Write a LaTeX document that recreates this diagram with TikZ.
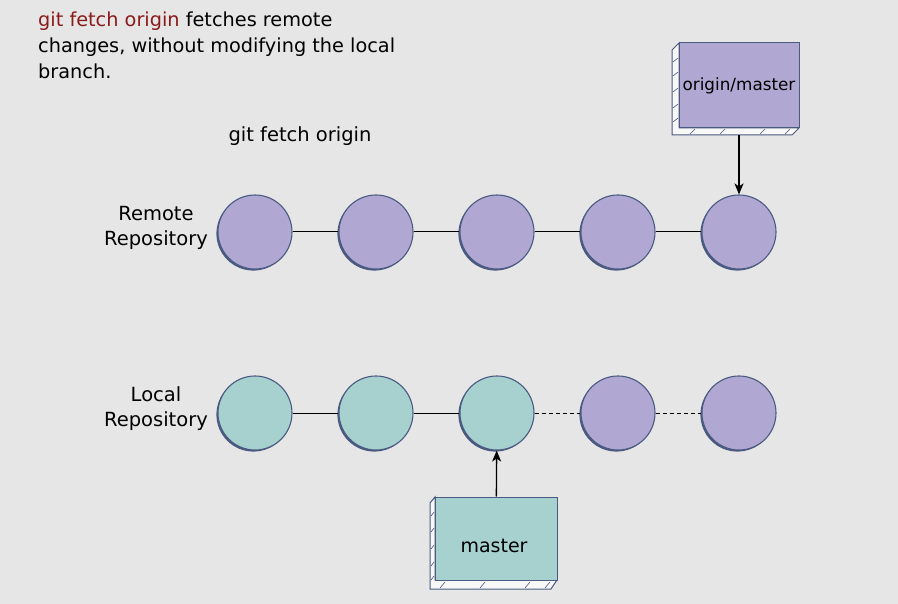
\documentclass[tikz,border=0pt]{standalone}
\usepackage{fontspec}
\setmainfont{DejaVu Sans}
\usetikzlibrary{shadows,arrows.meta}
\definecolor{bgc}{HTML}{E6E6E6}
\definecolor{purp}{HTML}{B0A8D3}
\definecolor{teal2}{HTML}{A6D1CF}
\definecolor{edgec}{HTML}{4A5A80}
\definecolor{redt}{HTML}{8B1A1A}
\tikzset{
  commit/.style={circle, minimum size=74pt, inner sep=0pt, draw=edgec, line width=1.1pt,
    drop shadow={shadow xshift=-1.6pt, shadow yshift=-1.6pt, fill=edgec, opacity=1}},
  remotec/.style={commit, fill=purp},
  localc/.style={commit, fill=teal2},
  link/.style={line width=1pt, black},
  dlink/.style={link, dash pattern=on 4pt off 3pt},
  arr/.style={line width=1.3pt, black, -{Stealth[length=11pt,width=9pt,inset=3pt]}},
  lbl/.style={font=\fontsize{19.5}{25}\selectfont, align=center, inner sep=0pt},
  boxside/.style={draw=edgec, fill=white!70!bgc, line width=1pt},
  hatch/.style={draw=edgec, line width=0.6pt},
}
\begin{document}
\begin{tikzpicture}[x=1pt,y=-1pt]
\useasboundingbox (0,0) rectangle (898,604);
\fill[bgc] (0,0) rectangle (898,604);

% top description
\node[anchor=north west, align=left, inner sep=0pt, font=\fontsize{19.3}{26.3}\selectfont] (desc) at (38,11.5)
  {{\color{redt}git fetch origin} fetches remote\\changes, without modifying the local\\branch.};
\node[lbl] (cmd) at (300,136) {git fetch origin};

% labels
\node[lbl] (rlab) at (156,228) {Remote\\Repository};
\node[lbl] (llab) at (156,409) {Local\\Repository};

% remote commits
\foreach \i/\x in {1/255,2/376,3/497,4/618,5/739}{
  \node[remotec] (r\i) at (\x,232) {};
}
% local commits
\foreach \i/\x in {1/255,2/376,3/497}{
  \node[localc] (l\i) at (\x,413) {};
}
\foreach \i/\x in {4/618,5/739}{
  \node[remotec] (l\i) at (\x,413) {};
}
\draw[link] (r1) -- (r2);
\draw[link] (r2) -- (r3);
\draw[link] (r3) -- (r4);
\draw[link] (r4) -- (r5);
\draw[link] (l1) -- (l2);
\draw[link] (l2) -- (l3);
\draw[dlink] (l3) -- (l4);
\draw[dlink] (l4) -- (l5);

% origin/master box (3D)
\draw[boxside] (679,43) -- (672,50) -- (672,135) -- (792,135) -- (799,128) -- (679,128) -- cycle;
\foreach \y in {58,72,88,104,118}{\draw[hatch] (673,\y+4) -- (678,\y);}
\foreach \x in {690,720,760,785}{\draw[hatch] (\x,134) -- (\x+5,129);}
\node[draw=edgec, fill=purp, line width=1pt, minimum width=120pt, minimum height=85pt,
  inner sep=0pt, font=\fontsize{16.8}{20}\selectfont] (om) at (739,85.5) {origin/master};
\coordinate (omb) at (739,135);
\draw[arr] (omb) -- (r5);

% master box (3D)
\draw[boxside] (435,497) -- (430,503) -- (430,589) -- (551,589) -- (557,580) -- (435,580) -- cycle;
\foreach \y in {512,528,545,562,576}{\draw[hatch] (431,\y+4) -- (434,\y);}
\foreach \x in {440,480,525,545}{\draw[hatch] (\x,588) -- (\x+5,582);}
\node[draw=edgec, fill=teal2, line width=1pt, minimum width=122pt, minimum height=83pt,
  inner sep=0pt, font=\fontsize{19}{22}\selectfont] (ms) at (496,538.5) {};
\node[inner sep=0pt, font=\fontsize{19}{22}\selectfont] (mstext) at (494,546) {master};
\draw[arr] (ms) -- (l3);
\end{tikzpicture}
\end{document}
